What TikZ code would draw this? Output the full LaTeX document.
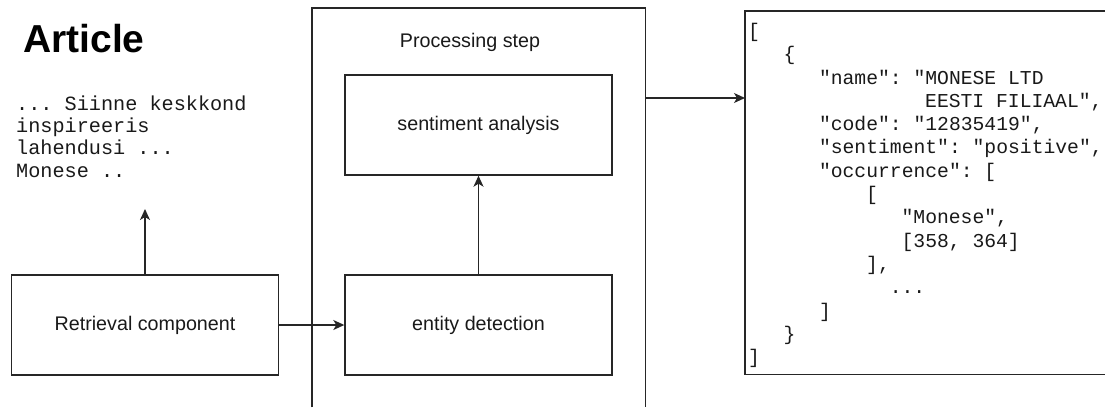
\documentclass[tikz,border=0pt]{standalone}
\usepackage{fontspec}
\setmainfont{Liberation Sans}
\setmonofont{Liberation Mono}
\usetikzlibrary{arrows.meta}
\tikzset{
  ln/.style={line width=1.4pt, draw=black!85},
  arr/.style={ln, -{Stealth[length=11pt,width=10pt,inset=3pt]}},
  blk/.style={ln, rectangle, inner sep=0pt, minimum width=267pt, minimum height=100pt,
              font=\fontsize{19.7}{23}\selectfont, text=black!90},
  lbl/.style={inner sep=0pt, font=\fontsize{19.7}{23}\selectfont, text=black!90},
  art/.style={inner sep=0pt, anchor=base west, font=\ttfamily\fontsize{20.2}{22.3}\selectfont, text=black!90},
  js/.style={inner sep=0pt, anchor=base west, font=\ttfamily\fontsize{19.7}{23.3}\selectfont, text=black!90},
}
\begin{document}
\begin{tikzpicture}[x=1pt,y=-1pt]
\useasboundingbox (0,0) rectangle (1105,407);
% left column
\node[inner sep=0pt, anchor=base west, font=\bfseries\fontsize{39}{44}\selectfont] (title) at (23,52) {Article};
\node[art] (a1) at (16,110) {... Siinne keskkond};
\node[art] (a2) at (16,132.3) {inspireeris};
\node[art] (a3) at (16,154.6) {lahendusi ...};
\node[art] (a4) at (16,177) {Monese ..};
\node[blk, draw] (ret) at (145,325) {Retrieval component};
\coordinate (artin) at (145,209);
\draw[arr] (ret.north) -- (artin);
% processing step
\node[inner sep=0pt, minimum width=333pt, minimum height=399pt, anchor=north west] (proc) at (312,8) {};
\draw[ln] (proc.south west) -- (proc.north west) -- (proc.north east) -- (proc.south east);
\node[lbl] (ptitle) at (470,42) {Processing step};
\node[blk, draw] (sent) at (478.5,125) {sentiment analysis};
\node[blk, draw] (ent) at (478.5,325) {entity detection};
\draw[arr] (ret.east) -- (ent.west);
\draw[arr] (ent.north) -- (sent.south);
% json output
\node[inner sep=0pt, minimum width=360pt, minimum height=363pt, anchor=north west] (json) at (745,11) {};
\draw[ln] (json.north east) -- (json.north west) -- (json.south west) -- (json.south east);
\coordinate (jy) at (0,98);
\draw[arr] (proc.east |- jy) -- (json.west |- jy);
% json text (column width 11.8pt, column 0 at x=748)
\node[js] (j1)  at (748,37.4)  {[};
\node[js] (j2)  at (783.4,60.7)  {\{};
\node[js] (j3)  at (818.8,84.0)  {"name": "MONESE LTD};
\node[js] (j4)  at (925,107.3) {EESTI FILIAAL",};
\node[js] (j5)  at (818.8,130.6) {"code": "12835419",};
\node[js] (j6)  at (818.8,153.9) {"sentiment": "positive",};
\node[js] (j7)  at (818.8,177.2) {"occurrence": [};
\node[js] (j8)  at (866,200.5) {[};
\node[js] (j9)  at (901.4,223.8) {"Monese",};
\node[js] (j10) at (901.4,247.1) {[358, 364]};
\node[js] (j11) at (866,270.4) {],};
\node[js] (j12) at (889.6,293.7) {...};
\node[js] (j13) at (818.8,317.0) {]};
\node[js] (j14) at (783.4,340.3) {\}};
\node[js] (j15) at (748,363.6) {]};
\end{tikzpicture}
\end{document}
